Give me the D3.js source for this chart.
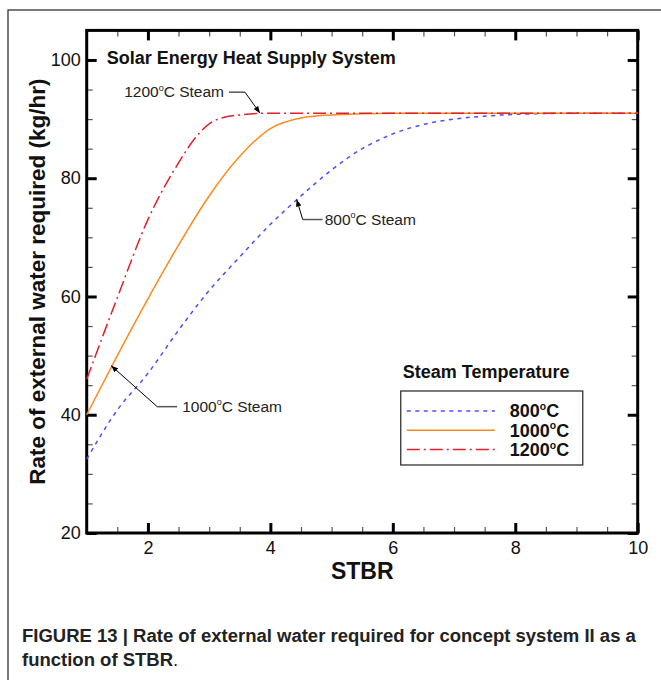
<!DOCTYPE html>
<html>
<head>
<meta charset="utf-8">
<script src="https://cdn.jsdelivr.net/npm/d3@7"></script>
<style>
  body { margin: 0; background: #fff; }
  svg { display: block; font-family: "Liberation Sans", Arial, sans-serif; }
</style>
</head>
<body>
<div id="chart"></div>
<script>
// Data: STBR vs external water (kg/hr)
const stbr800 = [1, 1.5, 2, 2.5, 3, 3.5, 4, 4.5, 5, 5.5, 5.8, 6, 6.5, 7, 7.5, 8, 9, 10];
const water800 = [32.5, 40.8, 47.0, 54.3, 61.0, 66.7, 72.2, 77.0, 81.4, 85.0, 86.6, 87.5, 89.1, 90.0, 90.5, 90.8, 91, 91];

const stbr1000 = [1, 1.5, 2, 2.5, 3, 3.5, 4, 4.5, 5, 5.5, 6, 7, 8, 9, 10];
const water1000 = [40, 50.0, 59.6, 68.7, 77.0, 83.7, 88.4, 90.2, 90.7, 90.9, 91, 91, 91, 91, 91];

const stbr1200 = [1, 1.5, 2, 2.5, 2.75, 3, 3.25, 3.5, 4, 5, 6, 7, 8, 9, 10];
const water1200 = [46, 59.8, 73.0, 82.6, 86.5, 89.2, 90.3, 90.7, 91, 91, 91, 91, 91, 91, 91];

const seriesNames = ["800", "1000", "1200"];
const xTicks = [2, 4, 6, 8, 10];
const yTicks = [20, 40, 60, 80, 100];

// annotation anchors (STBR, water) taken from the curves
const notes = [
  { label: "1200", at: [3.83, 91] },
  { label: "800", at: [4.43, 76.4] },
  { label: "1000", at: [1.4, 48.3] }
];

const W = 661, H = 680;
let margin = { top: 30.4, right: 23.3, bottom: 147, left: 86.7 },
    width = W - margin.left - margin.right,
    height = H - margin.top - margin.bottom;

let svg = d3.select("#chart").append("svg")
    .attr("width", W)
    .attr("height", H);

// outer figure frame
svg.append("rect")
    .attr("x", 8).attr("y", 10)
    .attr("width", 700).attr("height", 700)
    .attr("fill", "none")
    .attr("stroke", "#333")
    .attr("stroke-width", 1.3);

let g = svg.append("g")
    .attr("transform", "translate(" + margin.left + "," + margin.top + ")");

let x = d3.scaleLinear().domain([1, 10]).range([0, width]);
let y = d3.scaleLinear().domain([20, 105]).range([height, 0]);

const minorX = d3.range(1.5, 10, 0.5).filter(v => v % 2 !== 0);
const minorY = d3.range(25, 105, 5).filter(v => v % 20 !== 0);

function styleAxis(sel, w, col) {
  sel.select(".domain").remove();
  sel.selectAll(".tick line").attr("stroke", col).attr("stroke-width", w);
}

// left / bottom with labels, ticks pointing inward
g.append("g").call(d3.axisLeft(y).tickValues(minorY).tickSize(-6).tickFormat(""))
  .call(s => styleAxis(s, 1.2, "#555"));
g.append("g").call(d3.axisLeft(y).tickValues(yTicks).tickSize(-10).tickPadding(6))
  .call(s => styleAxis(s, 3, "#000"));

g.append("g").attr("transform", "translate(0," + height + ")")
  .call(d3.axisBottom(x).tickValues(minorX).tickSize(-6).tickFormat(""))
  .call(s => styleAxis(s, 1.2, "#555"));
g.append("g").attr("transform", "translate(0," + height + ")")
  .call(d3.axisBottom(x).tickValues(xTicks).tickSize(-10).tickPadding(8))
  .call(s => styleAxis(s, 3, "#000"));

// mirrored ticks on top / right
g.append("g").call(d3.axisTop(x).tickValues(minorX).tickSize(-6).tickFormat(""))
  .call(s => styleAxis(s, 1.2, "#555"));
g.append("g").call(d3.axisTop(x).tickValues(xTicks).tickSize(-10).tickFormat(""))
  .call(s => styleAxis(s, 3, "#000"));
g.append("g").attr("transform", "translate(" + width + ",0)")
  .call(d3.axisRight(y).tickValues(minorY).tickSize(-6).tickFormat(""))
  .call(s => styleAxis(s, 1.2, "#555"));
g.append("g").attr("transform", "translate(" + width + ",0)")
  .call(d3.axisRight(y).tickValues(yTicks).tickSize(-10).tickFormat(""))
  .call(s => styleAxis(s, 3, "#000"));

g.selectAll(".tick text")
    .attr("font-family", "'Liberation Sans', Arial, sans-serif")
    .attr("font-size", 18).attr("fill", "#111");

// plot border
g.append("rect")
    .attr("width", width).attr("height", height)
    .attr("fill", "none")
    .attr("stroke", "#000")
    .attr("stroke-width", 3);

// Lines
const styles = {
  "800": { color: "#4d4dff", dash: "4,4.5", xs: stbr800, ys: water800 },
  "1000": { color: "#ff8a1c", dash: null, xs: stbr1000, ys: water1000 },
  "1200": { color: "#e0202a", dash: "13,4,2,4", xs: stbr1200, ys: water1200 }
};

const line = d3.line()
    .x(d => x(d[0]))
    .y(d => y(d[1]))
    .curve(d3.curveMonotoneX);

seriesNames.forEach(k => {
  const s = styles[k];
  g.append("path")
    .datum(s.xs.map((v, i) => [v, s.ys[i]]))
    .attr("fill", "none")
    .attr("stroke", s.color)
    .attr("stroke-width", 1.5)
    .attr("stroke-dasharray", s.dash)
    .attr("d", line);
});

// degree helper: "1200" + superscript o + "C..."
function degText(sel, num, rest, size, raise) {
  sel.append("tspan").text(num);
  sel.append("tspan").text("o")
    .attr("font-size", size * 0.58)
    .attr("dy", -size * raise);
  sel.append("tspan").text(rest)
    .attr("dy", size * raise);
}

// Title
g.append("text")
    .attr("x", 20).attr("y", 34)
    .attr("font-size", 18)
    .attr("font-weight", "bold")
    .attr("fill", "#111")
    .text("Solar Energy Heat Supply System");

// Annotations with leader arrows
svg.append("defs").append("marker")
    .attr("id", "arr")
    .attr("viewBox", "0 0 10 10")
    .attr("refX", 10).attr("refY", 5)
    .attr("markerWidth", 7).attr("markerHeight", 7)
    .attr("markerUnits", "userSpaceOnUse")
    .attr("orient", "auto")
  .append("path")
    .attr("d", "M0,1 L10,5 L0,9 Z")
    .attr("fill", "#000");

const noteLayout = {
  "1200": { elbow: [-15, -21], end: [-31, -21], anchor: "end", tx: -36, ty: -16 },
  "800": { elbow: [6, 20], end: [26, 20], anchor: "start", tx: 28, ty: 25 },
  "1000": { elbow: [46, 41], end: [66, 41], anchor: "start", tx: 71, ty: 46 }
};

notes.forEach(n => {
  const L = noteLayout[n.label];
  const px = x(n.at[0]), py = y(n.at[1]);
  g.append("path")
    .attr("d", "M" + (px + L.end[0]) + "," + (py + L.end[1]) + "L" + (px + L.elbow[0]) + "," + (py + L.elbow[1]))
    .attr("stroke", "#555").attr("stroke-width", 1.5).attr("fill", "none");
  g.append("path")
    .attr("d", "M" + (px + L.elbow[0]) + "," + (py + L.elbow[1]) + "L" + px + "," + py)
    .attr("stroke", "#000").attr("stroke-width", 1).attr("fill", "none")
    .attr("marker-end", "url(#arr)");
  const t = g.append("text")
    .attr("x", px + L.tx).attr("y", py + L.ty)
    .attr("font-size", 15.5)
    .attr("fill", "#222")
    .attr("text-anchor", L.anchor);
  degText(t, n.label, "C Steam", 15.5, 0.42);
});

// Legend
const leg = g.append("g").attr("transform", "translate(" + x(6.13) + "," + y(45.2) + ")");
leg.append("text")
    .attr("x", 2).attr("y", -6)
    .attr("font-size", 18).attr("font-weight", "bold").attr("fill", "#111")
    .text("Steam Temperature");
leg.append("rect")
    .attr("x", 0).attr("y", 7)
    .attr("width", 182).attr("height", 74)
    .attr("fill", "#fff").attr("stroke", "#222").attr("stroke-width", 1.2);
seriesNames.forEach((k, i) => {
  const s = styles[k];
  const ly = 27 + i * 19.2;
  leg.append("line")
    .attr("x1", 6).attr("x2", 94)
    .attr("y1", ly).attr("y2", ly)
    .attr("stroke", s.color).attr("stroke-width", 1.5)
    .attr("stroke-dasharray", s.dash);
  const t = leg.append("text")
    .attr("x", 109).attr("y", ly + 6.5)
    .attr("font-size", 18).attr("font-weight", "bold").attr("fill", "#111");
  degText(t, k, "C", 18, 0.4);
});

// Axis titles
svg.append("text")
    .attr("x", margin.left + x(5.5))
    .attr("y", 579)
    .attr("text-anchor", "middle")
    .attr("font-size", 23).attr("font-weight", "bold").attr("fill", "#111")
    .text("STBR");

svg.append("text")
    .attr("transform", "translate(45," + (margin.top + y(62.5)) + ") rotate(-90)")
    .attr("text-anchor", "middle")
    .attr("font-size", 22.5).attr("font-weight", "bold").attr("fill", "#111")
    .text("Rate of external water required (kg/hr)");

// Caption
const cap = svg.append("g").attr("fill", "#222")
    .style("font-family", "'Liberation Sans Narrow', 'Arial Narrow', 'Liberation Sans', sans-serif")
    .attr("font-size", 19).attr("font-weight", "bold");
const c1 = cap.append("text").attr("x", 0).attr("y", 0)
    .text("FIGURE 13 | Rate of external water required for concept system II as a");
const c2 = cap.append("text").attr("x", 0).attr("y", 0);
c2.append("tspan").text("function of STBR");
c2.append("tspan").attr("font-weight", "normal").text(".");
const sx = 614 / c1.node().getComputedTextLength();
c1.attr("transform", "translate(22,642) scale(" + sx + ",1)");
c2.attr("transform", "translate(22,666) scale(" + sx + ",1)");
</script>
</body>
</html>
